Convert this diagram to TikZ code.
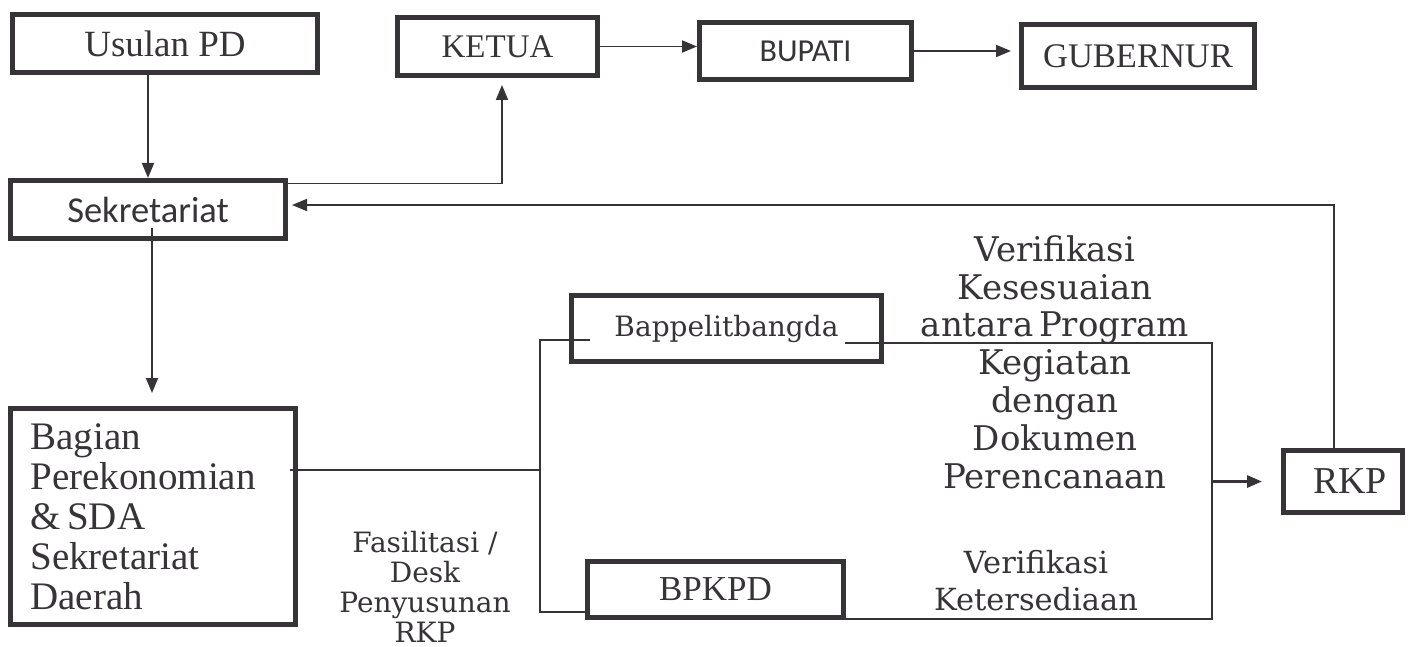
\documentclass[tikz,border=0pt]{standalone}
\usepackage{fontspec}
\setmainfont{Liberation Serif}
\newfontfamily\dvs{DejaVu Serif}
\newfontfamily\carl{Carlito}
\usetikzlibrary{arrows.meta}
\definecolor{ink}{RGB}{55,52,56}
\begin{document}
\begin{tikzpicture}[x=1pt,y=-1pt,
  box/.style={draw=ink, line width=5pt, rectangle, inner sep=0pt, text=ink},
  conn/.style={draw=ink, line width=1.8pt},
  arr/.style={conn, -{Triangle[length=15pt,width=12pt]}},
  lbl/.style={text=ink, align=center, inner sep=0pt}]
\useasboundingbox[fill=white] (0,0) rectangle (1416,647);
% boxes
\node[box, minimum width=305, minimum height=58, font=\fontsize{37}{40}\selectfont] (usulan) at (165,43.5) {Usulan PD};
\node[box, minimum width=200, minimum height=58, font=\fontsize{33}{36}\selectfont] (ketua) at (497.5,46.5) {KETUA};
\node[box, minimum width=212, minimum height=57, font=\carl\fontsize{32}{36}\selectfont] (bupati) at (805.5,51) {BUPATI};
\node[box, minimum width=233, minimum height=63, font=\fontsize{34.5}{38}\selectfont] (gub) at (1138,56) {GUBERNUR};
\node[box, minimum width=275, minimum height=58, font=\carl\fontsize{36.5}{40}\selectfont] (sekr) at (148,209.5) {Sekretariat};
\node[box, minimum width=310, minimum height=66, font=\dvs\fontsize{28}{32}\selectfont] (bapp) at (726.5,328.5) {Bappelitbangda};
\node[box, minimum width=285, minimum height=216, text width=245, inner xsep=10pt, align=left, font=\fontsize{39}{40}\selectfont] (bagian) at (153,516.5) {Bagian\\Perekonomian\\\&\,SDA\\Sekretariat\\Daerah};
\node[box, minimum width=256, minimum height=56, font=\fontsize{35}{38}\selectfont] (bpkpd) at (715.5,589.5) {BPKPD};
\node[box, minimum width=119, minimum height=62, font=\fontsize{38}{40}\selectfont] (rkp) at (1343,481.5) {\hspace*{14pt}RKP};
% labels
\node[lbl, font=\dvs\fontsize{34}{37.8}\selectfont] (vk) at (1055,362) {Verifikasi\\Kesesuaian\\antara\,Program\\Kegiatan\\dengan\\Dokumen\\Perencanaan};
\node[lbl, font=\dvs\fontsize{28}{30}\selectfont] (fas) at (425,587) {Fasilitasi /\\Desk\\Penyusunan\\RKP};
\node[lbl, font=\dvs\fontsize{30.5}{37}\selectfont] (vket) at (1036,581) {Verifikasi\\Ketersediaan};
% connectors
\draw[arr] (usulan.south -| sekr.north) -- (sekr.north);
\draw[arr, shorten >=7pt] ([yshift=26pt]sekr.east) -| ([xshift=4.5pt]ketua.south);
\draw[arr] (ketua.east) -- (ketua.east -| bupati.west);
\draw[arr, shorten >=8pt] (bupati.east) -- (bupati.east -| gub.west);
\draw[arr, shorten >=4pt] ([xshift=-9pt]rkp.north) |- ([yshift=4.5pt]sekr.east);
\draw[arr, shorten >=13pt] ([xshift=4pt,yshift=13pt]sekr.south) -- ([xshift=4pt]sekr.south |- bagian.north);
% left bracket
\coordinate (jx) at (540,470);
\coordinate (bt) at ([xshift=21pt,yshift=-11.5pt]bapp.west);
\coordinate (bb) at ([yshift=-22.5pt]bpkpd.west);
\draw[conn] ([xshift=-8pt,yshift=46.5pt]bagian.east) -- (jx);
\draw[conn] (bt) -| (jx) |- (bb);
% right bracket
\coordinate (jr) at (1212,0);
\coordinate (be) at ([xshift=-39pt,yshift=-14.5pt]bapp.east);
\coordinate (pe) at ([yshift=-29.5pt]bpkpd.east);
\draw[conn] (be) -- (be -| jr) -- (pe -| jr) -- (pe);
\draw[arr, line width=3pt, shorten >=19pt] (rkp.west -| jr) -- (rkp.west);
\end{tikzpicture}
\end{document}
